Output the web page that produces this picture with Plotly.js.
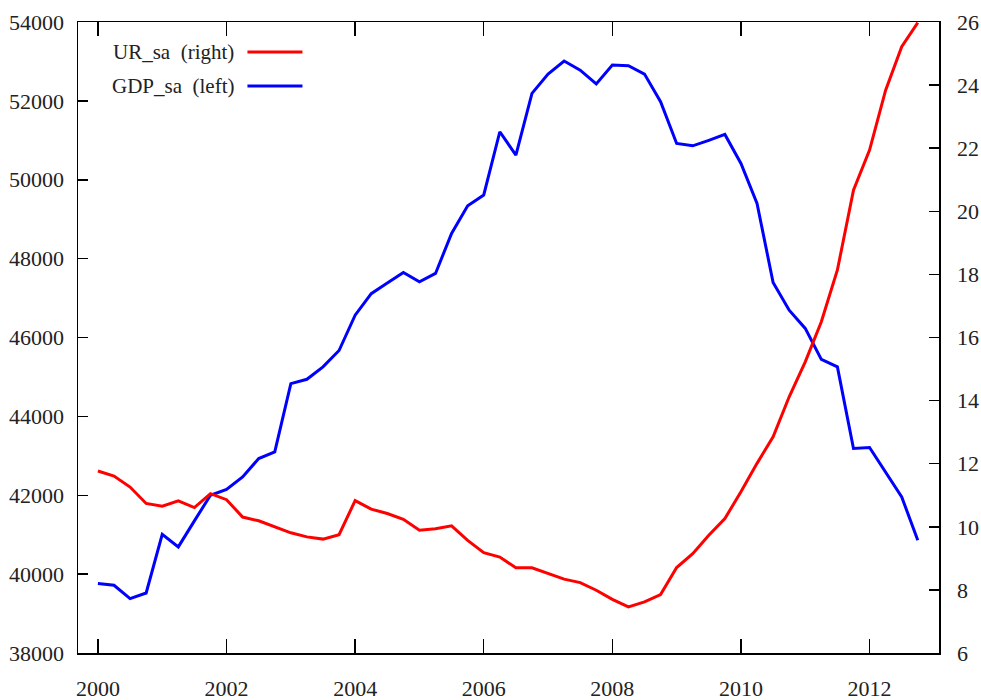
<!DOCTYPE html>
<html>
<head>
<meta charset="utf-8">
<script src="https://cdn.plot.ly/plotly-3.0.1.min.js"></script>
<style>
  html, body { margin: 0; padding: 0; background: #fff; }
  #chart { width: 981px; height: 700px; }
</style>
</head>
<body>
<div id="chart"></div>
<script>
// quarterly observations, 2000Q1 .. 2012Q4 (decimal years)
const quarters = [
  2000.00, 2000.25, 2000.50, 2000.75, 2001.00, 2001.25, 2001.50, 2001.75,
  2002.00, 2002.25, 2002.50, 2002.75, 2003.00, 2003.25, 2003.50, 2003.75,
  2004.00, 2004.25, 2004.50, 2004.75, 2005.00, 2005.25, 2005.50, 2005.75,
  2006.00, 2006.25, 2006.50, 2006.75, 2007.00, 2007.25, 2007.50, 2007.75,
  2008.00, 2008.25, 2008.50, 2008.75, 2009.00, 2009.25, 2009.50, 2009.75,
  2010.00, 2010.25, 2010.50, 2010.75, 2011.00, 2011.25, 2011.50, 2011.75,
  2012.00, 2012.25, 2012.50, 2012.75
];

// unemployment rate, seasonally adjusted (right axis)
const urSa = [
  11.77, 11.61, 11.26, 10.74, 10.65, 10.82, 10.61, 11.05,
  10.86, 10.31, 10.19, 10.00, 9.81, 9.68, 9.61, 9.75,
  10.83, 10.56, 10.42, 10.24, 9.89, 9.94, 10.03, 9.57,
  9.18, 9.04, 8.70, 8.70, 8.52, 8.34, 8.23, 7.99,
  7.70, 7.46, 7.62, 7.85, 8.71, 9.15, 9.73, 10.26,
  11.11, 12.01, 12.85, 14.12, 15.23, 16.50, 18.14, 20.67,
  21.94, 23.84, 25.22, 25.98
];

// GDP, seasonally adjusted (left axis)
const gdpSa = [
  39760, 39717, 39380, 39522, 41011, 40690, 41350, 42000,
  42145, 42465, 42930, 43100, 44830, 44940, 45255, 45670,
  46566, 47110, 47380, 47650, 47412, 47624, 48640, 49340,
  49614, 51217, 50626, 52190, 52680, 53010, 52780, 52430,
  52910, 52890, 52680, 51980, 50920, 50860, 51000, 51150,
  50413, 49400, 47395, 46693, 46230, 45443, 45255, 43185,
  43210, 42592, 41957, 40860
];

const legendLabels = ['UR_sa\u00a0\u00a0(right)', 'GDP_sa\u00a0\u00a0(left)'];
const lineColors = ['#ff0000', '#0000ff'];

const serif = 'Liberation Serif';

let traces = [
  {
    x: quarters, y: urSa, yaxis: 'y2', type: 'scatter', mode: 'lines',
    name: legendLabels[0], line: { color: lineColors[0], width: 3 }
  },
  {
    x: quarters, y: gdpSa, yaxis: 'y', type: 'scatter', mode: 'lines',
    name: legendLabels[1], line: { color: lineColors[1], width: 3 }
  }
];

// gnuplot-style key: text right-justified, sample line to its right
const keyY = [0.9524, 0.8985];
let annotations = [];
let shapes = [];
keyY.forEach((yy, i) => {
  annotations.push({
    xref: 'paper', yref: 'paper', x: 0.183, y: yy,
    xanchor: 'right', yanchor: 'middle', showarrow: false,
    text: legendLabels[i], font: { family: serif, size: 21, color: '#222' }
  });
  shapes.push({
    type: 'line', xref: 'paper', yref: 'paper',
    x0: 0.1968, x1: 0.2607, y0: yy, y1: yy,
    line: { color: lineColors[i], width: 3 }
  });
});

const axisFont = { family: serif, size: 22, color: '#222' };

let layout = {
  width: 981,
  height: 700,
  showlegend: false,
  font: { family: serif },
  paper_bgcolor: '#fff',
  plot_bgcolor: '#fff',
  margin: { l: 78, r: 42, t: 22, b: 47, pad: 0 },
  xaxis: {
    range: [1999.69, 2013.08],
    tickvals: [2000, 2002, 2004, 2006, 2008, 2010, 2012],
    ticks: 'inside', ticklen: 14, tickwidth: 1.5, tickcolor: '#000',
    showline: true, linecolor: '#000', linewidth: 1.5, mirror: 'ticks',
    showgrid: false, zeroline: false,
    tickfont: axisFont, ticklabelstandoff: 15
  },
  yaxis: {
    range: [38000, 54000], dtick: 2000, tick0: 38000, tickformat: 'd',
    ticks: 'inside', ticklen: 10, tickwidth: 1.5, tickcolor: '#000',
    showline: true, linecolor: '#000', linewidth: 1.5,
    showgrid: false, zeroline: false,
    tickfont: axisFont, ticklabelstandoff: 8
  },
  yaxis2: {
    range: [6, 26], dtick: 2, tick0: 6,
    overlaying: 'y', side: 'right',
    ticks: 'inside', ticklen: 10, tickwidth: 1.5, tickcolor: '#000',
    showline: true, linecolor: '#000', linewidth: 1.5,
    showgrid: false, zeroline: false,
    tickfont: axisFont, ticklabelstandoff: 12
  },
  annotations: annotations,
  shapes: shapes
};

Plotly.newPlot('chart', traces, layout, { displayModeBar: false, staticPlot: true });
</script>
</body>
</html>
